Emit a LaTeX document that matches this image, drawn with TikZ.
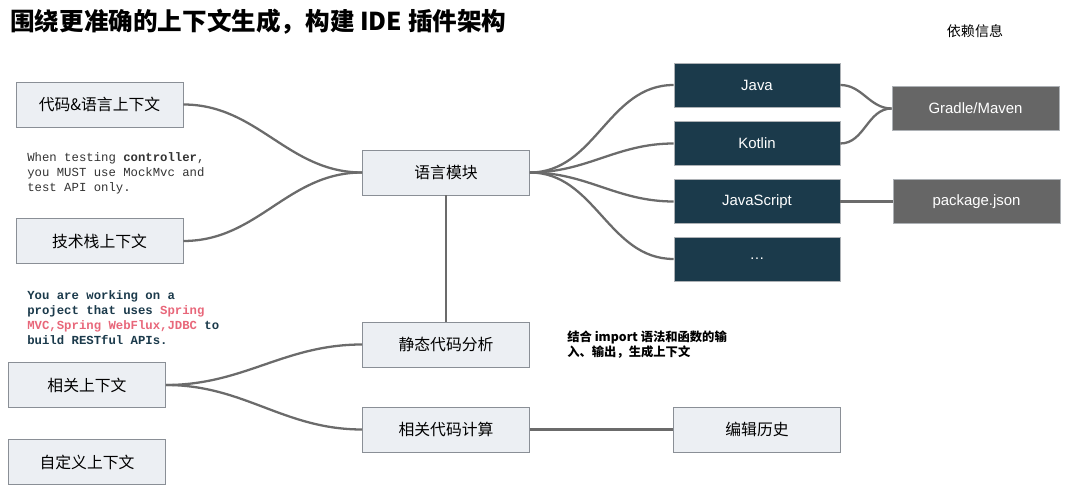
\documentclass[tikz,border=0pt]{standalone}
\usepackage{fontspec}
\setmainfont{Noto Sans CJK SC}
\newfontfamily\latinfont{Liberation Sans}
\setmonofont{Liberation Mono}
\usetikzlibrary{positioning}
\definecolor{boxfill}{HTML}{ECEFF3}
\definecolor{boxline}{HTML}{8A8F96}
\definecolor{navy}{HTML}{1B3A4B}
\definecolor{slate}{HTML}{666666}
\definecolor{linkgray}{HTML}{6B6B6B}
\definecolor{springred}{HTML}{E8677A}

\begin{document}
\begin{tikzpicture}[x=0.02cm, y=-0.02cm,
  ctxbox/.style={draw=boxline, fill=boxfill, minimum width=3.34cm, minimum height=0.9cm, font=\fontsize{9}{11}\selectfont},
  langbox/.style={draw=boxline!70, fill=navy, text=white, minimum width=3.32cm, minimum height=0.88cm, font=\latinfont\fontsize{8.5}{10}\selectfont},
  depbox/.style={draw=boxline!70, fill=slate, text=white, minimum width=3.34cm, minimum height=0.88cm, font=\latinfont\fontsize{8.5}{10}\selectfont},
  codetext/.style={anchor=west, inner sep=0pt, align=left, font=\ttfamily\fontsize{7}{8.5}\selectfont},
  link/.style={draw=linkgray, line width=1.3pt}]
  \useasboundingbox (0,0) rectangle (1080,489);

  % Title and side notes
  \node[anchor=west, inner sep=0pt, font=\bfseries\fontsize{14}{16}\selectfont] (title) at (10,22) {围绕更准确的上下文生成，构建 IDE 插件架构};
  \node[font=\fontsize{8}{10}\selectfont] (deps) at (975,31) {依赖信息};
  \node[codetext, text=black!80] (rule) at (27,173) {When testing \textbf{controller},\\you MUST use MockMvc and\\test API only.};
  \node[codetext, text=navy, font=\ttfamily\bfseries\fontsize{7}{8.5}\selectfont] (prompt) at (27,317.5) {You are working on a\\project that uses \textcolor{springred}{Spring}\\\textcolor{springred}{MVC,Spring WebFlux,JDBC} to\\build RESTful APIs.};
  \node[anchor=west, inner sep=0pt, align=left, font=\bfseries\fontsize{7}{8.5}\selectfont] (note) at (567,344.5) {结合 import 语法和函数的输\\入、输出，生成上下文};

  % Context boxes
  \node[ctxbox] (codectx) at (99.5,104.5) {代码\&语言上下文};
  \node[ctxbox] (stackctx) at (99.5,241) {技术栈上下文};
  \node[ctxbox, minimum width=3.14cm] (relctx) at (87,385) {相关上下文};
  \node[ctxbox, minimum width=3.14cm] (customctx) at (87,462) {自定义上下文};

  % Modules
  \node[ctxbox] (langmod) at (446,172.5) {语言模块};
  \node[ctxbox] (static) at (446,344.5) {静态代码分析};
  \node[ctxbox] (relcode) at (446,429.5) {相关代码计算};
  \node[ctxbox] (history) at (757,429.5) {编辑历史};

  % Languages and dependency info
  \node[langbox] (java) at (757,85) {Java};
  \node[langbox] (kotlin) at (757,143.5) {Kotlin};
  \node[langbox] (js) at (757,201.5) {JavaScript};
  \node[langbox] (more) at (757,259) {\dots};
  \node[depbox] (gradle) at (975.5,108.5) {Gradle/Maven};
  \node[depbox] (npm) at (976.5,201.5) {package.json};

  % Connectors
  \draw[link] (codectx.east) to[out=0, in=180] (langmod.west);
  \draw[link] (stackctx.east) to[out=0, in=180] (langmod.west);
  \foreach \lang in {java, kotlin, js, more}
    \draw[link] (langmod.east) to[out=0, in=180] (\lang.west);
  \draw[link] (java.east) to[out=0, in=180] (gradle.west);
  \draw[link] (kotlin.east) to[out=0, in=180] (gradle.west);
  \draw[link] (js.east) -- (npm.west);
  \draw[link] (langmod.south) -- (static.north);
  \draw[link] (relctx.east) to[out=0, in=180] (static.west);
  \draw[link] (relctx.east) to[out=0, in=180] (relcode.west);
  \draw[link] (relcode.east) -- (history.west);
\end{tikzpicture}
\end{document}
